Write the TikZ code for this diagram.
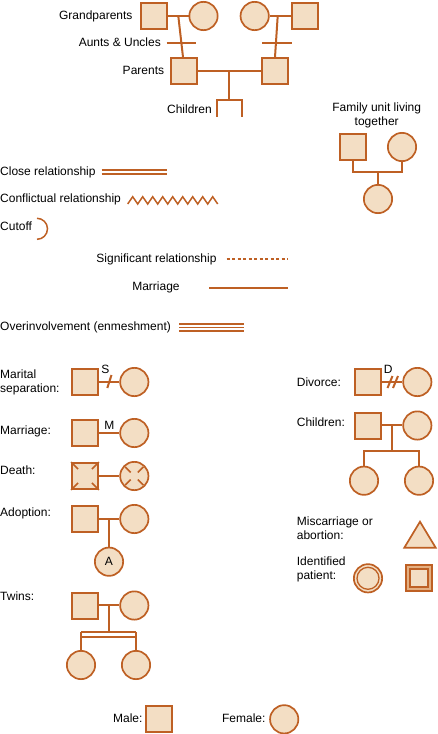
\documentclass[tikz,border=0pt]{standalone}
\usepackage{fontspec}
\setmainfont{Liberation Sans}
\usetikzlibrary{calc}
\definecolor{geno}{RGB}{190,96,36}
\definecolor{genofill}{RGB}{243,222,196}
\definecolor{genodark}{RGB}{228,176,130}

\tikzset{
  male/.style={draw=geno, fill=genofill, line width=1.8pt, minimum size=26pt, inner sep=0pt},
  female/.style={circle, draw=geno, fill=genofill, line width=1.7pt, minimum size=28.3pt, inner sep=0pt},
  txt/.style={inner sep=0pt, align=left, yshift=-1pt},
  tie/.style={draw=geno, line width=2pt},
  thin tie/.style={draw=geno, line width=1.5pt}
}

\begin{document}
\begin{tikzpicture}[x=1pt, y=-1pt, font=\fontsize{12}{14}\selectfont]
\useasboundingbox (0,0) rectangle (437,734);

% three generations
\node [male] (gp1) at (154,16) {};
\node [female] (gp2) at (203.5,16) {};
\node [female] (gp3) at (254.7,16) {};
\node [male] (gp4) at (305,16) {};
\node [male] (par1) at (184,71) {};
\node [male] (par2) at (275,71) {};
\node [txt, anchor=mid east] (lgrand) at (132.7,15.5) {Grandparents};
\node [txt, anchor=mid east] (launts) at (161,43.3) {Aunts \& Uncles};
\node [txt, anchor=mid east] (lpar) at (164.3,71) {Parents};
\node [txt, anchor=mid east] (lkids) at (212,110) {Children};
\coordinate (gpj1) at (178.3,16);
\coordinate (gpj2) at (277.7,16);
\coordinate (parj) at (229,71);
\coordinate (kidj) at (229,100);
\coordinate (kid1) at (217,116.7);
\coordinate (kid2) at (242,116.7);
\draw [tie] (gp1) -- (gp2);
\draw [tie] (gp3) -- (gp4);
\draw [tie] (par1) -- (par2);
\draw [tie] (gpj1) -- ([xshift=-1pt]par1.north);
\draw [tie] (gpj2) -- (par2.north);
\draw [tie] (166.7,43) -- (195.7,43);
\draw [tie] (262.3,43) -- (291.7,43);
\draw [tie] (parj) -- (kidj);
\draw [tie] (kid1) |- (kidj) -| (kid2);

% family unit
\node [txt, align=center] (lunit) at (376.7,114) {Family unit living\\together};
\node [male] (fu1) at (353,147) {};
\node [female] (fu2) at (402,147) {};
\node [female] (fu3) at (378,199) {};
\coordinate (fuj) at (378,172);
\draw [tie] (fu1.south) |- (fuj) -| (fu2.south);
\draw [tie] (fuj) -- (fu3.north);

% relationship lines
\node [txt, anchor=mid west] (lclose) at (0,171.7) {Close relationship};
\draw [thin tie] (101.7,170) -- (166.7,170) (101.7,174) -- (166.7,174);
\node [txt, anchor=mid west] (lconf) at (0,199.3) {Conflictual relationship};
\draw [thin tie, line join=miter] (127.7,204) \foreach \i in {1,...,9} {-- ++(5,-7.3) -- ++(5,7.3)};
\node [txt, anchor=mid west] (lcut) at (0,226.7) {Cutoff};
\draw [thin tie] (37,218.3) arc [start angle=-90, end angle=90, radius=10.5];
\node [txt, anchor=mid east] (lsig) at (216.7,259) {Significant relationship};
\draw [thin tie, dash pattern=on 3pt off 2.5pt] (226.7,259) -- (288.3,259);
\node [txt] (lmarline) at (156,286) {Marriage};
\draw [tie] (209,288) -- (288.3,288);
\node [txt, anchor=mid west] (lover) at (0,327.3) {Overinvolvement (enmeshment)};
\draw [thin tie] (179,324) -- (244.3,324) (179,327.5) -- (244.3,327.5) (179,331) -- (244.3,331);

% left column
\node [txt, anchor=west] (lsep) at (0,381.3) {Marital\\separation:};
\node [male] (sep1) at (85,382) {};
\node [female] (sep2) at (134.3,382) {};
\draw [tie] (sep1) -- (sep2);
\draw [tie] (107.3,388) -- (111.5,375);
\node [txt] (lS) at (105.5,368.7) {S};

\node [txt, anchor=mid west] (lmar) at (0,430.7) {Marriage:};
\node [male] (mar1) at (85,433) {};
\node [female] (mar2) at (134.3,433) {};
\draw [tie] (mar1) -- (mar2);
\node [txt] (lM) at (109.3,424.7) {M};

\node [txt, anchor=mid west] (ldeath) at (0,471) {Death:};
\node [male] (dead1) at (85,476) {};
\node [female] (dead2) at (134.3,476) {};
\draw [tie] (dead1) -- (dead2);
\foreach \c in {north west, north east, south west, south east}
  \draw [thin tie] (dead1.\c) -- ($(dead1.\c)!.5!(dead1.center)$);
\foreach \a in {45,135,225,315}
  \draw [thin tie] ($(dead2)+(\a:5)$) -- ($(dead2)+(\a:13)$);

\node [txt, anchor=mid west] (ladopt) at (0,513.3) {Adoption:};
\node [male] (ad1) at (85,519) {};
\node [female] (ad2) at (134.3,519) {};
\node [female] (ad3) at (109,561.7) {A};
\coordinate (adj) at (109,519);
\draw [tie] (ad1) -- (ad2);
\draw [tie] (adj) -- (ad3.north);

\node [txt, anchor=mid west] (ltwin) at (0,596.7) {Twins:};
\node [male] (tw1) at (85,606) {};
\node [female] (tw2) at (134.3,605.5) {};
\node [female] (tw3) at (81,665) {};
\node [female] (tw4) at (136,665) {};
\coordinate (twj) at (109,605);
\coordinate (twk) at (109,632);
\coordinate (twl) at (81,632);
\coordinate (twr) at (136,632);
\draw [tie] (tw1.east |- twj) -- (twj) -- (tw2.west |- twj);
\draw [tie] (twj) -- (twk);
\draw [thin tie] (twl) -- (twr);
\draw [thin tie] ([yshift=-5pt]twl) -- ([yshift=-5pt]twr);
\draw [tie] (twl) -- (tw3.north);
\draw [tie] (twr) -- (tw4.north);

\node [txt, anchor=mid east] (lmale) at (142.7,719.3) {Male:};
\node [male] (male) at (159,719) {};
\node [txt, anchor=mid east] (lfemale) at (265.7,719.3) {Female:};
\node [female] (female) at (284.2,719.3) {};

% right column
\node [txt, anchor=mid west] (ldiv) at (296.7,382.7) {Divorce:};
\node [male] (dv1) at (368,382) {};
\node [female] (dv2) at (417.3,382) {};
\draw [tie] (dv1) -- (dv2);
\draw [tie] (387.5,388) -- (392.5,376);
\draw [tie] (393,388) -- (398,376);
\node [txt] (lD) at (388.3,368.7) {D};

\node [txt, anchor=mid west] (lchild) at (296.7,423.3) {Children:};
\node [male] (ch1) at (368,426) {};
\node [female] (ch2) at (417.3,425.5) {};
\node [female] (ch3) at (364,480.7) {};
\node [female] (ch4) at (419,480.7) {};
\coordinate (chj) at (392,425);
\coordinate (chk) at (392,451);
\draw [tie] (ch1.east |- chj) -- (ch2.west |- chj);
\draw [tie] (chj) -- (chk);
\draw [tie] (ch3.north) |- (chk) -| (ch4.north);

\node [txt, anchor=west] (lmisc) at (296.7,527.3) {Miscarriage or\\abortion:};
\filldraw [tie, line width=1.7pt, fill=genofill] (420,521.7) -- (435.7,547.7) -- (404.3,547.7) -- cycle;

\node [txt, anchor=west] (lip) at (296.7,568) {Identified\\patient:};
\node [female] (ip1) at (368,578.3) {};
\node [female, minimum size=22pt, line width=1.3pt] at (ip1) {};
\node [male, fill=genodark] (ip2) at (419,578) {};
\node [male, minimum size=18pt, line width=1.4pt] at (ip2) {};
\end{tikzpicture}
\end{document}
